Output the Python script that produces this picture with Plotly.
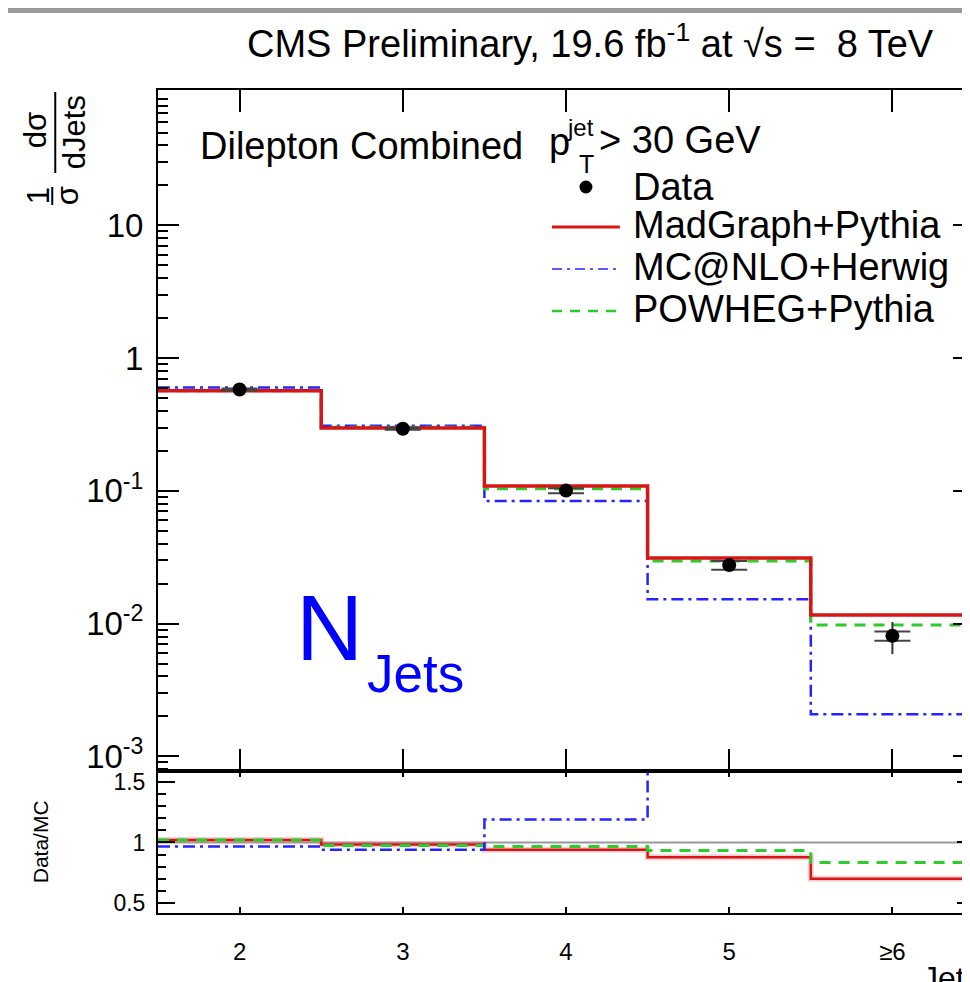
import plotly.graph_objects as go

# ---------------- data ----------------
bin_centers = [2, 3, 4, 5, 6]
bin_edges = [1.5, 2.5, 3.5, 4.5, 5.5, 6.5]
tick_labels = ["2", "3", "4", "5", "≥6"]

data_vals = [0.581, 0.2937, 0.1005, 0.0276, 0.00809]
data_stat = [0.010, 0.005, 0.0044, 0.0021, 0.00065]
data_tot = [0.012, 0.006, 0.005, 0.0024, 0.0022]

madgraph = [0.567, 0.2973, 0.109, 0.0312, 0.0116]
mcatnlo = [0.601, 0.3098, 0.0841, 0.0153, 0.00208]
powheg = [0.569, 0.301, 0.104, 0.0296, 0.00975]

ratio_madgraph = [1.02, 0.983, 0.94, 0.877, 0.70]
ratio_mcatnlo = [0.966, 0.94, 1.19, 1.8, 3.9]
ratio_powheg = [1.02, 0.975, 0.966, 0.933, 0.835]

# ---------------- geometry helpers (screen pixel -> paper) ----------------
W, H = 970, 982
OFF = 8                      # page body margin
L, R, T, B = 150, 968, 82, 905   # plot area in figure pixels
PW, PH = R - L, B - T


def PX(x):
    return (x - OFF - L) / PW


def PY(y):
    return (B - (y - OFF)) / PH


split = PY(771)

FONT = "Liberation Sans, Arial, Helvetica, sans-serif"
NARROW = "Liberation Sans Narrow, Arial Narrow, Liberation Sans, Arial, sans-serif"

RED = "#d81414"
BLUE = "#2424ff"
GREEN = "#2ccc2c"
BLUE_DASH = "12px,5px,3px,5px"
GREEN_DASH = "11px,8px"


def steps(vals):
    return list(vals) + [vals[-1]]


fig = go.Figure()

# ---- main panel ----
fig.add_trace(go.Scatter(x=bin_edges, y=steps(mcatnlo), mode="lines", line_shape="hv",
                         line=dict(color=BLUE, width=2.5, dash=BLUE_DASH),
                         xaxis="x", yaxis="y", showlegend=False))
fig.add_trace(go.Scatter(x=bin_edges, y=steps(powheg), mode="lines", line_shape="hv",
                         line=dict(color=GREEN, width=3, dash=GREEN_DASH),
                         xaxis="x", yaxis="y", showlegend=False))
fig.add_trace(go.Scatter(x=bin_edges, y=steps(madgraph), mode="lines", line_shape="hv",
                         line=dict(color=RED, width=3.5),
                         xaxis="x", yaxis="y", showlegend=False))
fig.add_trace(go.Scatter(x=bin_centers, y=data_vals, mode="markers",
                         marker=dict(color="rgba(0,0,0,0)", size=1),
                         error_y=dict(type="data", array=data_tot, color="#333333",
                                      thickness=2, width=0),
                         xaxis="x", yaxis="y", showlegend=False))
fig.add_trace(go.Scatter(x=bin_centers, y=data_vals, mode="markers",
                         marker=dict(color="black", size=14),
                         error_y=dict(type="data", array=data_stat, color="#444444",
                                      thickness=2, width=18),
                         xaxis="x", yaxis="y", showlegend=False))

# ---- ratio panel ----
fig.add_trace(go.Scatter(x=bin_edges, y=steps(ratio_madgraph), mode="lines", line_shape="hv",
                         line=dict(color="rgba(235,120,120,0.35)", width=6),
                         xaxis="x2", yaxis="y2", showlegend=False))
fig.add_trace(go.Scatter(x=bin_edges, y=steps(ratio_madgraph), mode="lines", line_shape="hv",
                         line=dict(color=RED, width=2.5),
                         xaxis="x2", yaxis="y2", showlegend=False))
fig.add_trace(go.Scatter(x=bin_edges, y=steps(ratio_powheg), mode="lines", line_shape="hv",
                         line=dict(color=GREEN, width=3, dash=GREEN_DASH),
                         xaxis="x2", yaxis="y2", showlegend=False))
fig.add_trace(go.Scatter(x=bin_edges, y=steps(ratio_mcatnlo), mode="lines", line_shape="hv",
                         line=dict(color=BLUE, width=2.5, dash=BLUE_DASH),
                         xaxis="x2", yaxis="y2", showlegend=False))

# ---------------- axes ----------------
xr = [1.5, 6.5]
main_major = [0.001, 0.01, 0.1, 1, 10]
main_major_txt = ["10<sup>-3</sup>", "10<sup>-2</sup>", "10<sup>-1</sup>", "1", "10"]
main_minor = [k * 10 ** d for d in range(-4, 2) for k in range(2, 10)]
ratio_major = [0.5, 1.0, 1.5]
ratio_minor = [0.6, 0.7, 0.8, 0.9, 1.1, 1.2, 1.3, 1.4]

fig.update_layout(
    width=W, height=H,
    margin=dict(l=L, r=W - R, t=T, b=H - B),
    paper_bgcolor="white", plot_bgcolor="white",
    font=dict(family=FONT, color="black"),
    xaxis=dict(domain=[0, 1], range=xr, anchor="y", tickvals=bin_centers,
               showticklabels=False, ticks="inside", ticklen=22, tickwidth=2,
               tickcolor="black", showline=True, linewidth=2, linecolor="black",
               mirror="ticks", showgrid=False, zeroline=False),
    yaxis=dict(domain=[split, 1], type="log", range=[-3.11, 2.02], anchor="x",
               tickvals=main_major, ticktext=main_major_txt, ticks="inside",
               ticklen=21, tickwidth=2, tickcolor="black", showline=True,
               linewidth=2, linecolor="black",
               mirror="ticks", showgrid=False, zeroline=False,
               tickfont=dict(family=FONT, size=33), ticklabelstandoff=6,
               minor=dict(tickmode="array", tickvals=main_minor, ticks="inside",
                          ticklen=10, tickwidth=1.5, tickcolor="black", showgrid=False)),
    xaxis2=dict(domain=[0, 1], range=xr, anchor="y2", tickvals=bin_centers,
                ticktext=tick_labels, ticks="inside", ticklen=6, tickwidth=2,
                tickcolor="black", showline=True, linewidth=2, linecolor="black",
                mirror="ticks", showgrid=False, zeroline=False,
                tickfont=dict(family=NARROW, size=24), ticklabelstandoff=16),
    yaxis2=dict(domain=[0, split], range=[0.417, 1.591], anchor="x2",
                tickvals=ratio_major, ticktext=["0.5", "1", "1.5"], ticks="inside",
                ticklen=17, tickwidth=2, tickcolor="black", showline=True,
                linewidth=2, linecolor="black",
                mirror="ticks", showgrid=False, zeroline=False,
                tickfont=dict(family=NARROW, size=23), ticklabelstandoff=6,
                minor=dict(tickmode="array", tickvals=ratio_minor, ticks="inside",
                           ticklen=8, tickwidth=1.5, tickcolor="black", showgrid=False)),
)

# ---------------- shapes ----------------
shapes = []
shapes.append(dict(type="rect", xref="paper", yref="paper", x0=PX(0), x1=PX(990),
                   y0=PY(13), y1=PY(4), fillcolor="#9a9a9a", line=dict(width=0), layer="above"))
shapes.append(dict(type="line", xref="x2", yref="y2", x0=xr[0], x1=xr[1], y0=1, y1=1,
                   line=dict(color="#999999", width=2), layer="below"))
# y-axis title fraction bars
shapes.append(dict(type="line", xref="paper", yref="paper", x0=PX(55), x1=PX(55),
                   y0=PY(173), y1=PY(92), line=dict(color="black", width=2)))
shapes.append(dict(type="line", xref="paper", yref="paper", x0=PX(52), x1=PX(52),
                   y0=PY(205), y1=PY(187), line=dict(color="black", width=2)))
# legend samples
shapes.append(dict(type="circle", xref="paper", yref="paper", x0=PX(580.5), x1=PX(593.5),
                   y0=PY(193.5), y1=PY(180.5), fillcolor="black", line=dict(width=0)))
shapes.append(dict(type="line", xref="paper", yref="paper", x0=PX(553), x1=PX(621),
                   y0=PY(227), y1=PY(227), line=dict(color=RED, width=3)))
shapes.append(dict(type="line", xref="paper", yref="paper", x0=PX(553), x1=PX(621),
                   y0=PY(269), y1=PY(269), line=dict(color="#5a5aff", width=2, dash="10px,5px,3px,5px")))
shapes.append(dict(type="line", xref="paper", yref="paper", x0=PX(553), x1=PX(621),
                   y0=PY(311), y1=PY(311), line=dict(color=GREEN, width=2.5, dash="10px,8px")))
fig.update_layout(shapes=shapes)

# ---------------- annotations ----------------
ann = []


def text(s, x, y, size, xanchor="left", yanchor="middle", color="black", family=FONT, angle=0):
    ann.append(dict(text=s, x=PX(x), y=PY(y), xref="paper", yref="paper",
                    xanchor=xanchor, yanchor=yanchor, showarrow=False, textangle=angle,
                    font=dict(size=size, color=color, family=family)))


text("CMS Preliminary, 19.6 fb<sup>-1</sup> at √s =  8 TeV", 938, 41, 38, xanchor="right")
text("Dilepton Combined", 198, 146, 38)
text("p", 548, 142, 38)
text("jet", 566, 127, 24)
text("T", 578, 164, 25)
text("> 30 GeV", 598, 140, 38)
text("Data", 632, 187, 38)
text("MadGraph+Pythia", 632, 225, 38)
text("MC@NLO+Herwig", 632, 267, 38)
text("POWHEG+Pythia", 632, 309, 38)
text("N", 330, 628, 93, xanchor="center", color="#0000ff")
text("Jets", 416, 673, 53, xanchor="center", color="#0000ff")
# y-axis title (rotated fraction)
text("dσ", 36, 130, 31, xanchor="center", angle=-90)
text("dJets", 74, 132, 31, xanchor="center", angle=-90)
text("1", 38, 196, 31, xanchor="center", angle=-90)
text("σ", 67, 196, 31, xanchor="center", angle=-90)
text("Data/MC", 40, 842, 21, xanchor="center", angle=-90, family=NARROW)
text("Jets", 922, 958, 32, yanchor="top", family=NARROW)
fig.update_layout(annotations=ann)

fig.write_html("out.html")
